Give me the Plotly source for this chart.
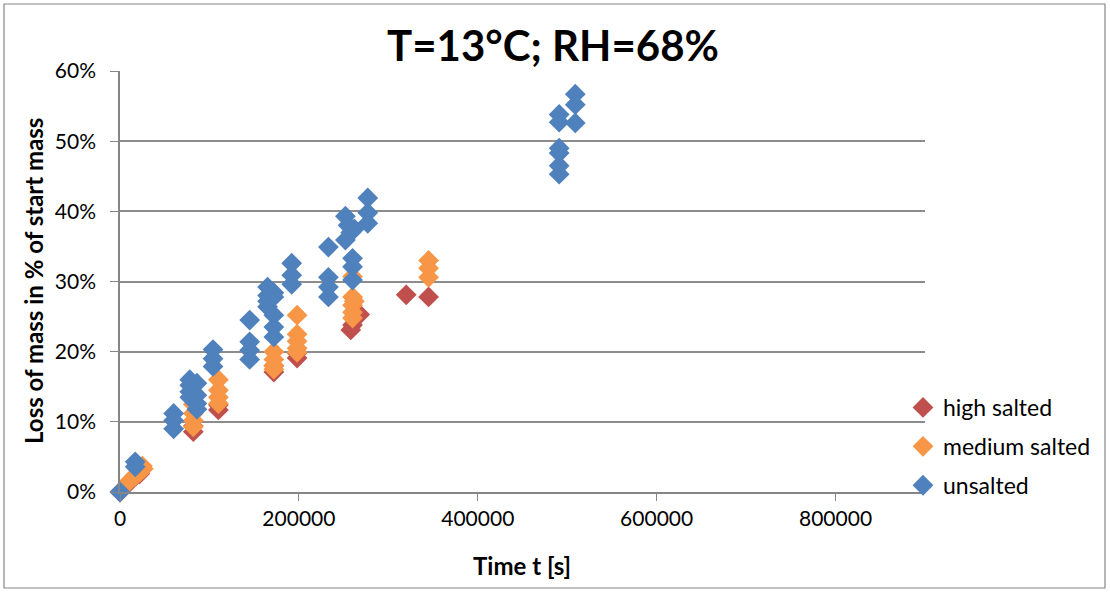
import plotly.graph_objects as go

# ---- data (time in s, loss of mass as fraction) ----
high_x = [0, 10000, 22000, 82000, 82000, 110000, 110000, 172000, 172000, 198000, 198000,
          260000, 268000, 258000, 320000, 345000]
high_y = [0.0, 0.013, 0.026, 0.086, 0.094, 0.117, 0.124, 0.171, 0.180, 0.191, 0.198,
          0.238, 0.253, 0.231, 0.281, 0.278]

med_x = [0, 10000, 16000, 22000, 26000, 25000, 82000, 82000, 82000, 82000,
         110000, 110000, 110000, 110000, 172000, 172000, 172000, 172000,
         198000, 198000, 198000, 198000, 198000,
         260000, 260000, 260000, 260000, 260000, 262000, 345000, 345000, 345000]
med_y = [0.0, 0.015, 0.022, 0.028, 0.033, 0.037, 0.125, 0.112, 0.102, 0.093,
         0.160, 0.145, 0.135, 0.126, 0.200, 0.189, 0.180, 0.175,
         0.252, 0.225, 0.215, 0.205, 0.199,
         0.307, 0.278, 0.266, 0.256, 0.248, 0.272, 0.330, 0.319, 0.306]

uns_x = [0, 17000, 17000, 60000, 60000, 60000, 78000, 78000, 78000, 78000,
         86000, 86000, 86000, 86000, 104000, 104000, 104000,
         145000, 145000, 145000, 145000, 165000, 165000, 165000, 165000,
         172000, 172000, 172000, 172000, 172000, 192000, 192000, 192000,
         233000, 233000, 233000, 233000, 252000, 255000, 258000, 252000, 262000,
         260000, 260000, 260000, 277000, 277000, 277000,
         491000, 491000, 491000, 491000, 491000, 491000, 509000, 509000, 509000]
uns_y = [0.0, 0.043, 0.036, 0.112, 0.102, 0.090, 0.160, 0.152, 0.143, 0.135,
         0.155, 0.138, 0.126, 0.118, 0.203, 0.190, 0.179,
         0.245, 0.214, 0.202, 0.189, 0.292, 0.280, 0.264, 0.272,
         0.284, 0.278, 0.252, 0.235, 0.221, 0.326, 0.309, 0.296,
         0.349, 0.306, 0.292, 0.278, 0.393, 0.380, 0.370, 0.359, 0.375,
         0.333, 0.321, 0.302, 0.419, 0.398, 0.383,
         0.538, 0.527, 0.490, 0.483, 0.465, 0.453, 0.567, 0.552, 0.526]

x_ticks = [0, 200000, 400000, 600000, 800000]
y_ticks = [0, 0.1, 0.2, 0.3, 0.4, 0.5, 0.6]

FONT = "Lato"
W, H = 1110, 592
L, R, T, B = 120, 185, 71, 100
pw, ph = W - L - R, H - T - B

fig = go.Figure()
for name, xs, ys, col in [("high salted", high_x, high_y, "#C0504D"),
                          ("medium salted", med_x, med_y, "#F79646"),
                          ("unsalted", uns_x, uns_y, "#4F81BD")]:
    fig.add_trace(go.Scatter(x=xs, y=ys, mode="markers", name=name, legendgroup=name,
                             marker=dict(symbol="diamond", size=16, color=col,
                                         line=dict(width=0)),
                             cliponaxis=False))

fig.update_layout(
    width=W, height=H,
    margin=dict(l=L, r=R, t=T, b=B),
    paper_bgcolor="white", plot_bgcolor="white",
    font=dict(family=FONT, size=21, color="black"),
    title=dict(text="<b>T=13°C; RH=68%</b>", x=553 / W, xref="container",
               y=1 - 46 / H, yref="container", xanchor="center", yanchor="middle",
               font=dict(family=FONT, size=42, color="black")),
    showlegend=True,
    legend=dict(x=(903 - L) / pw, xanchor="left", y=(492 - 386) / ph, yanchor="top",
                font=dict(family=FONT, size=23, color="black"),
                bgcolor="rgba(0,0,0,0)", itemwidth=30, tracegroupgap=6),
    xaxis=dict(range=[0, 900000], tickvals=x_ticks, tickformat="d",
               showgrid=False, zeroline=False, showline=True, linecolor="#868686",
               linewidth=1.5, ticks="outside", ticklen=7, tickcolor="#868686",
               tickfont=dict(family=FONT, size=21, color="black")),
    yaxis=dict(range=[0, 0.6], tickvals=y_ticks, tickformat=".0%",
               showgrid=True, gridcolor="#8C8C8C", gridwidth=1.5,
               zeroline=False, showline=True, linecolor="#868686", linewidth=1.5,
               ticks="outside", ticklen=8, tickcolor="#868686",
               ticklabelstandoff=10,
               tickfont=dict(family=FONT, size=21, color="black")),
    annotations=[
        dict(text="<b>Loss of mass in % of start mass</b>", textangle=-90,
             xref="paper", yref="paper", x=(33 - L) / pw, y=(492 - 281) / ph,
             xanchor="center", yanchor="middle", showarrow=False,
             font=dict(family=FONT, size=24, color="black")),
        dict(text="<b>Time t [s]</b>", xref="paper", yref="paper",
             x=(522 - L) / pw, y=(492 - 565) / ph, xanchor="center", yanchor="middle",
             showarrow=False, font=dict(family=FONT, size=24, color="black")),
    ],
    shapes=[dict(type="rect", xref="paper", yref="paper",
                 x0=(4 - L) / pw, x1=(1105 - L) / pw,
                 y0=(492 - 588) / ph, y1=(492 - 4) / ph,
                 line=dict(color="#868686", width=1.2), fillcolor="rgba(0,0,0,0)",
                 layer="below")],
)

fig.write_html("out.html")
